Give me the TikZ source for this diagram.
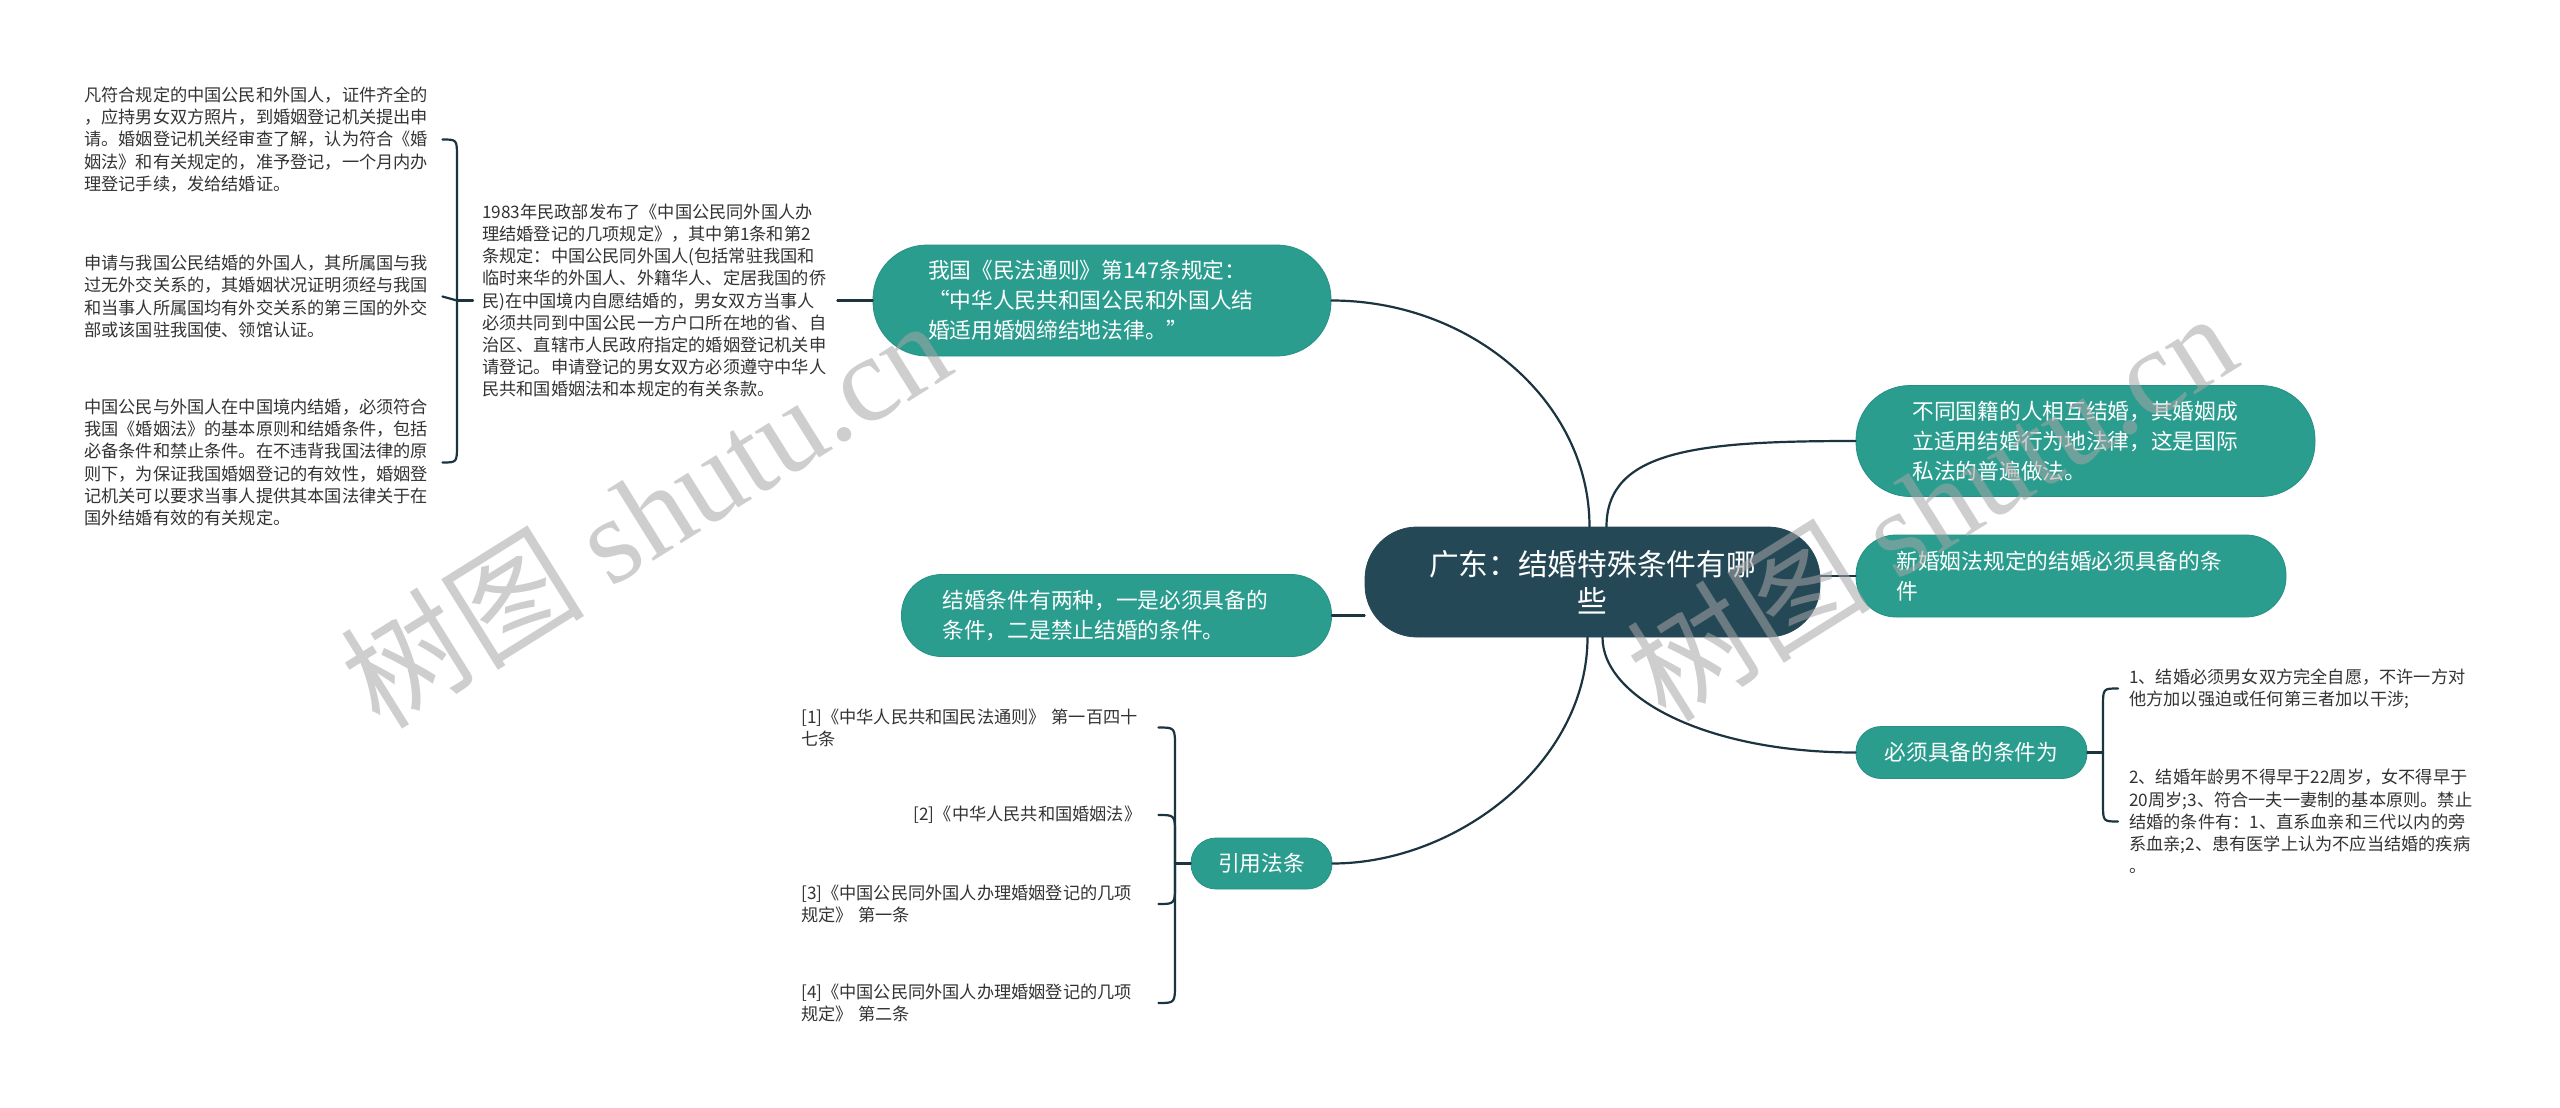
\documentclass[tikz,border=0pt]{standalone}
\usepackage{fontspec}
\setmainfont{Noto Sans CJK SC}
\newfontfamily\wmlatin{Liberation Serif}
\usetikzlibrary{calc}
\definecolor{tealfill}{RGB}{42,157,143}
\definecolor{darkfill}{RGB}{37,72,86}
\definecolor{linecol}{RGB}{27,52,64}
\definecolor{txtcol}{RGB}{51,51,51}
\tikzset{
  pill/.style={fill=tealfill, draw=tealfill!92!black, line width=0.8pt, text=white, inner sep=0pt,
    font=\fontsize{21.7pt}{30pt}\selectfont},
  centerbox/.style={fill=darkfill, draw=darkfill, line width=0.8pt, text=white, inner sep=0pt, align=center,
    font=\fontsize{29.7pt}{37pt}\selectfont},
  plaintext/.style={text=txtcol, inner ysep=2pt, align=left,
    font=\fontsize{17.2pt}{22.2pt}\selectfont},
  conn/.style={draw=linecol, line width=2.2pt, line cap=round, line join=round},
  wmark/.style={text=gray!70, opacity=0.55, inner sep=0pt, rotate=32,
    font=\fontsize{122pt}{122pt}\selectfont}
}
\begin{document}
\begin{tikzpicture}[x=1pt,y=-1pt]
\fill[white] (0,0) rectangle (2560,1108);
\useasboundingbox (0,0) rectangle (2560,1108);

% main nodes
\node[centerbox, minimum width=455pt, minimum height=110pt, rounded corners=52pt] (C) at (1592.5,582) {广东：结婚特殊条件有哪\\些};

\node[pill, minimum width=458pt, minimum height=111pt, rounded corners=54pt, text width=348pt, align=left] (N1) at (1102,300.5)
  {我国《民法通则》第147条规定：\\“中华人民共和国公民和外国人结\\婚适用婚姻缔结地法律。”};
\node[pill, minimum width=459pt, minimum height=111pt, rounded corners=54pt, text width=346pt, align=left] (N2) at (2085.5,441)
  {不同国籍的人相互结婚，其婚姻成\\立适用结婚行为地法律，这是国际\\私法的普遍做法。};
\node[pill, minimum width=430pt, minimum height=82pt, rounded corners=40pt, text width=349pt, align=left] (N3) at (2071,576)
  {新婚姻法规定的结婚必须具备的条\\件};
\node[pill, minimum width=430pt, minimum height=82pt, rounded corners=40pt, text width=348pt, align=left] (N4) at (1116.5,615.5)
  {结婚条件有两种，一是必须具备的\\条件，二是禁止结婚的条件。};
\node[pill, minimum width=231pt, minimum height=52pt, rounded corners=25pt, align=center] (N5) at (1971.5,752.5)
  {必须具备的条件为};
\node[pill, minimum width=141pt, minimum height=51pt, rounded corners=25pt, align=center] (N6) at (1261.5,863.5)
  {引用法条};

% left cluster
\node[plaintext, text width=346pt, inner xsep=9pt, anchor=west] (T83) at (473,300.5)
  {1983年民政部发布了《中国公民同外国人办\\理结婚登记的几项规定》，其中第1条和第2\\条规定：中国公民同外国人(包括常驻我国和\\临时来华的外国人、外籍华人、定居我国的侨\\民)在中国境内自愿结婚的，男女双方当事人\\必须共同到中国公民一方户口所在地的省、自\\治区、直辖市人民政府指定的婚姻登记机关申\\请登记。申请登记的男女双方必须遵守中华人\\民共和国婚姻法和本规定的有关条款。};
\node[plaintext, text width=348pt, inner xsep=10pt, anchor=west] (L1) at (74,139.5)
  {凡符合规定的中国公民和外国人，证件齐全的\\，应持男女双方照片，到婚姻登记机关提出申\\请。婚姻登记机关经审查了解，认为符合《婚\\姻法》和有关规定的，准予登记，一个月内办\\理登记手续，发给结婚证。};
\node[plaintext, text width=348pt, inner xsep=10pt, anchor=west] (L2) at (74,296.5)
  {申请与我国公民结婚的外国人，其所属国与我\\过无外交关系的，其婚姻状况证明须经与我国\\和当事人所属国均有外交关系的第三国的外交\\部或该国驻我国使、领馆认证。};
\node[plaintext, text width=348pt, inner xsep=10pt, anchor=west] (L3) at (74,462.5)
  {中国公民与外国人在中国境内结婚，必须符合\\我国《婚姻法》的基本原则和结婚条件，包括\\必备条件和禁止条件。在不违背我国法律的原\\则下，为保证我国婚姻登记的有效性，婚姻登\\记机关可以要求当事人提供其本国法律关于在\\国外结婚有效的有关规定。};

% right cluster
\node[plaintext, text width=352pt, inner xsep=11pt, anchor=west] (R1) at (2118,688.5)
  {1、结婚必须男女双方完全自愿，不许一方对\\他方加以强迫或任何第三者加以干涉;};
\node[plaintext, text width=352pt, inner xsep=11pt, anchor=west] (R2) at (2118,821.5)
  {2、结婚年龄男不得早于22周岁，女不得早于\\20周岁;3、符合一夫一妻制的基本原则。禁止\\结婚的条件有：1、直系血亲和三代以内的旁\\系血亲;2、患有医学上认为不应当结婚的疾病\\。};

% citations
\node[plaintext, text width=340pt, inner xsep=17pt, anchor=west] (C1) at (784,727.5)
  {[1]《中华人民共和国民法通则》 第一百四十\\七条};
\node[plaintext, text width=340pt, inner xsep=17pt, anchor=west, align=right] (C2) at (784,815)
  {[2]《中华人民共和国婚姻法》};
\node[plaintext, text width=340pt, inner xsep=17pt, anchor=west] (C3) at (784,904)
  {[3]《中国公民同外国人办理婚姻登记的几项\\规定》 第一条};
\node[plaintext, text width=340pt, inner xsep=17pt, anchor=west] (C4) at (784,1003)
  {[4]《中国公民同外国人办理婚姻登记的几项\\规定》 第二条};

% junctions
\coordinate (J1) at (457,300.5);
\coordinate (J2) at (1175,863.5);
\coordinate (J3) at (2103,752.5);

% center connectors
\draw[conn] ($(C.north)+(-3,0)$) .. controls ($(C.north)+(-3,-125)$) and ($(N1.east)+(140,0)$) .. (N1.east);
\draw[conn] ($(C.north)+(14,0)$) .. controls ($(C.north)+(14,-77)$) and ($(N2.west)+(-156,0)$) .. (N2.west);
\draw[conn] ($(C.south)+(-5,0)$) .. controls ($(C.south)+(-5,125)$) and ($(N6.east)+(125,0)$) .. (N6.east);
\draw[conn] ($(C.south)+(10,0)$) .. controls ($(C.south)+(10,60)$) and ($(N5.west)+(-150,0)$) .. (N5.west);
\draw[conn] (N4.east) -- (N4.east -| C.west);
\draw[conn] (C.east |- N3.west) -- (N3.west);

% left bracket
\draw[conn] (N1.west) -- (T83.east);
\draw[conn] (T83.west) -- (J1);
\draw[conn] (J1) -- ($(J1 |- L1.east)+(0,18)$) .. controls (J1 |- L1.east) .. (L1.east);
\draw[conn] (J1) -- (L2.east);
\draw[conn] (J1) -- ($(J1 |- L3.east)+(0,-18)$) .. controls (J1 |- L3.east) .. (L3.east);

% citation bracket
\draw[conn] (N6.west) -- (J2);
\draw[conn] (J2) -- ($(J2 |- C1.east)+(0,20)$) .. controls (J2 |- C1.east) .. (C1.east);
\draw[conn] (J2) -- ($(J2 |- C2.east)+(0,20)$) .. controls (J2 |- C2.east) .. (C2.east);
\draw[conn] (J2) -- ($(J2 |- C3.east)+(0,-20)$) .. controls (J2 |- C3.east) .. (C3.east);
\draw[conn] (J2) -- ($(J2 |- C4.east)+(0,-20)$) .. controls (J2 |- C4.east) .. (C4.east);

% right bracket
\draw[conn] (N5.east) -- (J3);
\draw[conn] (J3) -- ($(J3 |- R1.west)+(0,18)$) .. controls (J3 |- R1.west) .. (R1.west);
\draw[conn] (J3) -- ($(J3 |- R2.west)+(0,-18)$) .. controls (J3 |- R2.west) .. (R2.west);

% watermarks
\node[wmark] (W1) at (645,512) {树图 {\wmlatin shutu.cn}};
\node[wmark] (W2) at (1931,505) {树图 {\wmlatin shutu.cn}};
\end{tikzpicture}
\end{document}
